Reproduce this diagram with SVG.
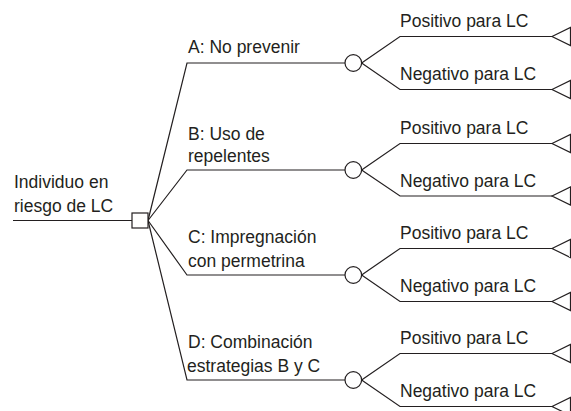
<svg xmlns="http://www.w3.org/2000/svg" width="571" height="411" viewBox="0 0 571 411">
<style>
text{font-family:"Liberation Sans",Arial,sans-serif;font-size:17.5px;fill:#231f20}
.ln{stroke:#231f20;stroke-width:1.2;fill:none}
.nd{stroke:#231f20;stroke-width:1.2;fill:#fff}
</style>
<rect width="571" height="411" fill="#fff"/>
<g id="connectors">
<line class="ln" x1="13" y1="220.5" x2="132" y2="220.5"/>
<polyline class="ln" points="148,220.5 187,63 345,63"/>
<polyline class="ln" points="148,220.5 187,170 345,170"/>
<polyline class="ln" points="148,220.5 187,275 345,275"/>
<polyline class="ln" points="148,220.5 187,380 345,380"/>
<polyline class="ln" points="361.6,63 400,36.5 552,36.5"/>
<polyline class="ln" points="361.6,63 400,89.5 552,89.5"/>
<polyline class="ln" points="361.6,170 400,143.5 552,143.5"/>
<polyline class="ln" points="361.6,170 400,196 552,196"/>
<polyline class="ln" points="361.6,275 400,248.5 552,248.5"/>
<polyline class="ln" points="361.6,275 400,301.5 552,301.5"/>
<polyline class="ln" points="361.6,380 400,353.5 552,353.5"/>
<polyline class="ln" points="361.6,380 400,406.5 552,406.5"/>
</g>
<g id="root">
<rect class="nd" x="132" y="213" width="16" height="15"/>
<text x="14" y="188">Individuo en</text>
<text x="14" y="212">riesgo de LC</text>
</g>
<g id="optA">
<text x="188" y="53">A: No prevenir</text>
<circle class="nd" cx="353.3" cy="63" r="8.3"/>
</g>
<g id="optB">
<text x="188" y="140">B: Uso de</text>
<text x="188" y="162">repelentes</text>
<circle class="nd" cx="353.3" cy="170" r="8.3"/>
</g>
<g id="optC">
<text x="188" y="243">C: Impregnación</text>
<text x="188" y="267">con permetrina</text>
<circle class="nd" cx="353.3" cy="275" r="8.3"/>
</g>
<g id="optD">
<text x="188" y="348">D: Combinación</text>
<text x="187" y="372">estrategias B y C</text>
<circle class="nd" cx="353.3" cy="380" r="8.3"/>
</g>
<g id="outA">
<text x="400" y="27">Positivo para LC</text>
<polygon class="nd" points="552,36.5 570.5,27.5 570.5,45.5"/>
<text x="400" y="80">Negativo para LC</text>
<polygon class="nd" points="552,89.5 570.5,80.5 570.5,98.5"/>
</g>
<g id="outB">
<text x="400" y="134">Positivo para LC</text>
<polygon class="nd" points="552,143.5 570.5,134.5 570.5,152.5"/>
<text x="400" y="186.5">Negativo para LC</text>
<polygon class="nd" points="552,196 570.5,187 570.5,205"/>
</g>
<g id="outC">
<text x="400" y="239">Positivo para LC</text>
<polygon class="nd" points="552,248.5 570.5,239.5 570.5,257.5"/>
<text x="400" y="292">Negativo para LC</text>
<polygon class="nd" points="552,301.5 570.5,292.5 570.5,310.5"/>
</g>
<g id="outD">
<text x="400" y="344">Positivo para LC</text>
<polygon class="nd" points="552,353.5 570.5,344.5 570.5,362.5"/>
<text x="400" y="397">Negativo para LC</text>
<polygon class="nd" points="552,406.5 570.5,397.5 570.5,415.5"/>
</g>
</svg>
